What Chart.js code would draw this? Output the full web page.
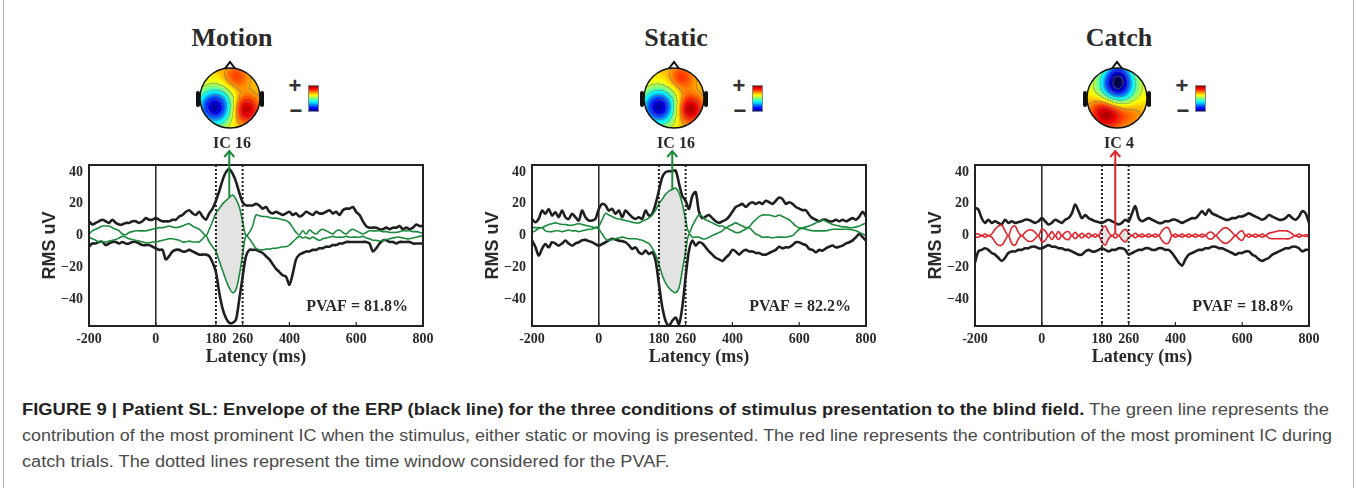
<!DOCTYPE html>
<html>
<head>
<meta charset="utf-8">
<script src="https://cdn.jsdelivr.net/npm/chart.js@4.4.1/dist/chart.umd.min.js"></script>
<style>
body { margin: 0; background: #fff; width: 1357px; height: 488px; overflow: hidden; position: relative; }
.abs { position: absolute; }
.ttl { font: bold 26px "Liberation Serif", serif; color: #2a2a2a; width: 200px; text-align: center; line-height: 30px; }
.ic { font: bold 16px "Liberation Serif", serif; color: #2a2a2a; width: 100px; text-align: center; line-height: 18px; }
.pm { font: bold 22px "Liberation Sans", sans-serif; color: #333; line-height: 22px; width: 20px; text-align: center; }
.cap { left: 22px; white-space: nowrap; font-family: "Liberation Sans Narrow", "Liberation Sans", sans-serif; font-size: 16px; line-height: 20px; color: #4a4a4a; transform-origin: 0 50%; }
.cap b { color: #222; }
.edge { position: absolute; top: 0; bottom: 0; width: 1px; background: #b5b5b5; }
</style>
</head>
<body>
<div class="edge" style="left:3px"></div>
<div class="edge" style="left:1353px"></div>

<div id="figure"></div>

<div class="abs cap" id="cap1" style="top:400px"><b>FIGURE 9 | Patient SL: Envelope of the ERP (black line) for the three conditions of stimulus presentation to the blind field.</b> The green line represents the</div>
<div class="abs cap" id="cap2" style="top:426px">contribution of the most prominent IC when the stimulus, either static or moving is presented. The red line represents the contribution of the most prominent IC during</div>
<div class="abs cap" id="cap3" style="top:452px">catch trials. The dotted lines represent the time window considered for the PVAF.</div>

<script>
// latency axis, 10 ms steps
const latency = [];
for (let t = -200; t <= 800; t += 10) latency.push(t);
const xTicks = [-200, 0, 180, 260, 400, 600, 800];
const yTicks = [40, 20, 0, -20, -40];
const windowMs = [180, 260];

const titles = ['Motion', 'Static', 'Catch'];
const icNames = ['IC 16', 'IC 16', 'IC 4'];
const pvafs = ['PVAF = 81.8%', 'PVAF = 82.2%', 'PVAF = 18.8%'];

// Motion
const motionErpUpper = [9, 7, 8, 9, 10, 9, 8, 10, 8, 7,
  7, 8, 8, 9, 9, 8, 9, 11, 10, 10,
  11, 10, 9, 9, 9, 10, 10, 12, 13, 15,
  16, 14, 13, 15, 12, 10, 14, 17, 22, 28,
  35, 40, 42, 39, 34, 27, 21, 19, 19, 19,
  20, 19, 17, 18, 15, 14, 15, 14, 13, 14,
  15, 13, 14, 12, 13, 15, 14, 13, 15, 14,
  14, 15, 16, 14, 15, 13, 16, 17, 17, 18,
  15, 13, 9, 6, 5, 5, 5, 4, 4, 5,
  4, 5, 5, 6, 4, 5, 4, 5, 7, 6, 6];
const motionErpLower = [-7, -5, -5, -4, -4, -6, -5, -4, -4, -5,
  -4, -5, -5, -4, -4, -5, -6, -6, -6, -7,
  -8, -9, -9, -15, -13, -10, -9, -9, -10, -10,
  -9, -10, -11, -12, -12, -12, -13, -17, -23, -36,
  -46, -52, -55, -55, -53, -40, -26, -13, -9, -9,
  -9, -10, -11, -13, -15, -18, -21, -23, -25, -26,
  -31, -24, -15, -12, -11, -10, -10, -9, -9, -8,
  -8, -7, -7, -6, -6, -5, -5, -4, -4, -4,
  -4, -4, -4, -4, -5, -10, -8, -5, -3, -3,
  -4, -4, -5, -4, -4, -4, -4, -5, -5, -5, -5];
const motionIcUpper = [1, 3, 4, 5, 6, 6, 6, 5, 4, 3,
  1, 0.5, 2, 2.5, 3, 3, 3, 3, 3.5, 4,
  4.5, 5, 5, 5.5, 6, 5.5, 5, 5.5, 6, 7,
  7.5, 6, 5, 4, 2, 0, 4, 9, 14, 17,
  20, 22, 24, 25.5, 23, 18, 9, 0, 2, 6,
  13, 12.5, 12, 12, 11.5, 11, 11, 10.5, 10, 9.5,
  8, 5, 2, 0.5, 3, 1, 3.5, 2, 1, 3,
  4, 3, 2, 1, 3, 3.5, 2, 1, 3, 4,
  3, 2, 1, 2, 3, 3, 3, 3, 2.5, 2.5,
  2, 2, 2, 2.5, 3, 3, 3, 2.5, 2.5, 2, 1.5];
const motionIcLower = [-1, -2, -3, -4, -4, -4, -3.5, -3, -2.5, -1.5,
  -0.5, -1, -2, -2.5, -3, -3.5, -4, -4.5, -4.5, -4,
  -4, -3.5, -3, -2.5, -2, -2, -2.5, -3, -4, -4,
  -3.5, -4, -4, -4, -2, 0, -4, -7, -10, -16,
  -22, -28, -33, -36, -34, -25, -12, 0, -2, -5,
  -8, -9, -9, -8.5, -8.5, -8, -8, -7.5, -7, -7,
  -6, -4, -2, -0.5, -1.5, -1, -2, -1, -2, -3,
  -2, -1.5, -1, -0.5, -1, -1, -1, -0.5, -1, -1,
  -1, -1, -0.5, -1.5, -2, -3, -3, -3.5, -3, -2.5,
  -2, -1.5, -1, -1, -1.5, -2, -2, -1.5, -1, -0.5, 0];

// Static
const staticErpUpper = [10.5, 8.4, 10.5, 15.8, 13.7, 16.8, 12.6, 14.7, 11.6, 15.8,
  11.6, 10.5, 13.7, 11.6, 9.5, 15.8, 11.6, 9.5, 9.5, 10.5,
  16.8, 20, 19, 15.8, 16.8, 13.7, 15.8, 11.6, 15.8, 13.7,
  11.6, 10.5, 11.6, 10.5, 15.8, 12.6, 13.7, 20, 28.4, 36.8,
  40, 40.6, 40.6, 41, 33, 25, 22, 16.8, 25, 27.4,
  15, 11, 12, 13, 11, 9, 8, 9, 10, 12,
  15, 18, 19, 20, 18, 20, 21, 20, 21, 20,
  22, 21, 20, 22, 24, 23, 20, 21, 20, 18,
  17, 16, 16, 13, 11, 10, 9, 10, 10, 9,
  9, 10, 9, 10, 9, 10, 11, 10, 12, 15, 12];
const staticErpLower = [-3, -7, -12.6, -8.4, -5.3, -7.4, -4.2, -5, -6.3, -5,
  -3.2, -5, -6.3, -5, -4.2, -3, -2.7, -3.5, -4.2, -5.3,
  -6.3, -5.3, -4.2, -3, -2, -2.5, -3.2, -3.5, -4.2, -6,
  -8.4, -7.4, -10.5, -11.6, -9.5, -11.6, -10.5, -15.8, -30.5, -45,
  -53.7, -56.8, -53.7, -51.6, -55.8, -45, -26, -9.5, -3.2, -6.3,
  -4.2, -5, -7.4, -10, -12, -14, -15, -16, -14, -12,
  -9, -10, -12, -10, -9, -10, -10, -11, -11, -12,
  -12, -11, -10, -9, -7, -8, -7.4, -7.4, -6, -4.2,
  -4.2, -5.3, -6, -8.4, -9, -10.5, -9, -9.5, -8, -7,
  -6.3, -7.4, -7, -6.3, -5, -4.2, -3, -1, 1, -1, -3.2];
const staticIcUpper = [5, 5, 5, 5, 6, 7, 7.5, 8, 7.5, 7,
  7, 6.5, 6.5, 7, 7.5, 7, 6.5, 6, 5.5, 5,
  6, 10, 14, 13, 12, 11, 10.5, 10, 9.5, 9,
  8.5, 8, 8, 9, 10, 11, 13, 16, 20, 23,
  26, 28, 29, 30, 27, 20, 10, 2, 6, 10,
  13, 12, 10, 9, 8, 7, 6, 6, 5, 6,
  7, 8, 7, 6, 5, 5.5, 8, 10, 12, 13,
  13, 13, 12.5, 12, 13, 12, 11, 10, 8, 6,
  5, 5, 5.5, 6, 7, 8, 9, 10, 9, 8,
  7, 6.5, 6, 5.5, 5.5, 5, 5, 5.5, 6, 7, 8];
const staticIcLower = [2, 3, 4.5, 5, 3, 2.5, 2.5, 3, 3, 2.5,
  3, 3.5, 3, 3, 2.5, 3, 3.5, 4, 4, 5,
  4, 1, -2, -3, -2.5, -2, -1.5, -1, -1.5, -2,
  -2, -2, -2.5, -3, -4, -5, -8, -12, -18, -25,
  -30, -33, -35, -36, -33, -22, -10, 1, -1, -1,
  -1, -2, -2, -1, 0, 1, 2, 3, 5, 4,
  3, 2, 2, 3, 4, 5, 3, 1, 0, -1,
  -1, -1, -1.5, -1, -1, -1, -1, -0.5, 0, 2,
  4, 4.5, 4, 3.5, 3, 3, 3, 3, 3, 3.5,
  4, 4, 4, 4, 4, 4, 3.5, 3, 2, 1, 0];

// Catch
const catchErpUpper = [17.5, 16.4, 11, 8, 10, 8, 9, 8, 7, 10,
  8, 9, 8, 8.5, 9, 10, 10, 9, 8, 9,
  11, 9, 7, 8, 10, 9, 8, 10, 11, 14,
  19.6, 15.4, 11, 13, 11, 10, 9, 8.5, 8, 9,
  10, 9, 8, 7, 8, 10, 9, 14, 18.5, 11,
  9, 10, 11, 10, 9, 8, 8, 9, 9, 10,
  10, 9, 8, 9, 10, 11, 11, 13, 15.4, 13,
  16.4, 14, 13, 12, 11, 10, 10, 11, 11, 12,
  12, 13, 14, 13, 12, 11, 10, 11, 13, 12,
  11, 10, 10, 11, 13, 11, 10, 12, 15.4, 14, 8];
const catchErpLower = [-17, -10, -9, -8, -9, -11, -12, -14, -16, -14,
  -11, -10, -10, -9, -9, -8, -8, -7, -7, -8,
  -8, -7, -6, -7, -7, -8, -8, -9, -9, -10,
  -11, -12, -12, -10, -9, -10, -10, -9, -8, -9,
  -10, -9, -9, -8, -8, -9, -12, -11, -10, -9,
  -9, -8, -8, -9, -9, -8, -8, -9, -9, -11,
  -14, -17, -19, -15, -12, -11, -10, -9, -9, -8,
  -8, -7, -7, -8, -8, -9, -10, -11, -12, -11,
  -11, -10, -10, -12, -13, -15, -16, -15, -14, -12,
  -11, -10, -9, -8, -8, -7, -7, -8, -10, -9, -9];
const catchIcUpper = [1, 1, 0, 1, 0, 1, 4, 6, 6.5, 3,
  0, 5, 6, 2, 0, 2, 3.5, 3.5, 2, 0,
  4, 3, 0, 2.5, 0, 2.5, 0, 2, 2.5, 0,
  2, 0, 1.5, 0, 1.5, 0, 1, 0, 4, 6,
  2, 0, 1.5, 0, 2.5, 4, 1.5, 0, 1.5, 0,
  1, 0, 1, 0, 1, 0, 3, 5, 4.5, 0,
  1, 0, 1, 0, 1, 0, 1, 0, 1, 0,
  2, 2, 0, 2, 4, 5, 4, 2, 0, 2,
  3, 0, 1, 0, 1, 0, 1, 0, 1.5, 2,
  2.5, 3, 3, 3, 2.5, 1, 0, 1, 0, 0.5, 0.5];
const catchIcLower = [-1, -1, 0, -1, 0, -1, -4, -6, -6, -3,
  0, -5, -6, -2, 0, -2, -3.5, -3.5, -2, 0,
  -4, -3, 0, -2.5, 0, -2.5, 0, -2, -2.5, 0,
  -2, 0, -1.5, 0, -1.5, 0, -1, 0, -4, -6,
  -2, 0, -1.5, 0, -2.5, -4, -1.5, 0, -1.5, 0,
  -1, 0, -1, 0, -1, 0, -3, -5, -4.5, 0,
  -1, 0, -1, 0, -1, 0, -1, 0, -1, 0,
  -2, -2, 0, -2, -4, -5, -4, -2, 0, -2,
  -3, 0, -1, 0, -1, 0, -1, 0, -1.5, -2,
  -2, -2, -2, -2, -2, -1, 0, -1, 0, -0.5, -0.5];

const panels = [
  {erpUp: motionErpUpper, erpLo: motionErpLower, icUp: motionIcUpper, icLo: motionIcLower, color: '#1b8a3c', arrowAt: 220},
  {erpUp: staticErpUpper, erpLo: staticErpLower, icUp: staticIcUpper, icLo: staticIcLower, color: '#1b8a3c', arrowAt: 220},
  {erpUp: catchErpUpper, erpLo: catchErpLower, icUp: catchIcUpper, icLo: catchIcLower, color: '#e3232b', arrowAt: 220}
];

// scalp map blobs (head radius = 1, y down): [x, y, sigma, amplitude]
const scalps = [
  {base: 0.67, blobs: [[-0.5, 0.3, 0.42, -0.64], [0.5, 0.38, 0.33, 0.3], [0.2, -0.7, 0.3, 0.15]]},
  {base: 0.67, blobs: [[-0.5, 0.3, 0.41, -0.64], [0.5, 0.36, 0.33, 0.31], [0.25, -0.68, 0.3, 0.16]]},
  {base: 0.64, blobs: [[0.0, -0.38, 0.4, -0.62], [0.05, -0.85, 0.3, -0.25], [-0.35, 0.5, 0.4, 0.34], [0.5, 0.55, 0.35, 0.1]]}
];

const chartDx = [0, 443, 886];
const decoDx = [0, 444, 887];
const fig = document.getElementById('figure');

function jet(v) {
  const c = k => Math.max(0, Math.min(1, 1.5 - Math.abs(4 * v - k)));
  return [c(3) * 255, c(2) * 255, c(1) * 255];
}

function drawHead(cv, s) {
  const ctx = cv.getContext('2d');
  const W = cv.width, H = cv.height, cx = 40, cy = 44, r = 30;
  const img = ctx.createImageData(W, H);
  const f = new Float32Array(W * H);
  for (let j = 0; j < H; j++) for (let i = 0; i < W; i++) {
    const nx = (i + 0.5 - cx) / r, ny = (j + 0.5 - cy) / r;
    let v = s.base;
    s.blobs.forEach(b => { v += b[3] * Math.exp(-((nx - b[0]) ** 2 + (ny - b[1]) ** 2) / (2 * b[2] * b[2])); });
    f[j * W + i] = v;
  }
  for (let j = 1; j < H; j++) for (let i = 1; i < W; i++) {
    const nx = (i + 0.5 - cx) / r, ny = (j + 0.5 - cy) / r;
    if (nx * nx + ny * ny > 1) continue;
    const v = f[j * W + i];
    let col = jet(v);
    const lv = Math.floor(v * 7), ll = Math.floor(f[j * W + i - 1] * 7), lt = Math.floor(f[(j - 1) * W + i] * 7);
    if (lv !== ll || lv !== lt) col = col.map(c => c * 0.55 + 50);
    const k = (j * W + i) * 4;
    img.data[k] = col[0]; img.data[k + 1] = col[1]; img.data[k + 2] = col[2]; img.data[k + 3] = 255;
  }
  ctx.putImageData(img, 0, 0);
  ctx.strokeStyle = '#111';
  ctx.lineWidth = 1.5;
  ctx.beginPath(); ctx.arc(cx, cy, r, 0, Math.PI * 2); ctx.stroke();
  // nose
  ctx.lineWidth = 2;
  ctx.beginPath(); ctx.moveTo(cx - 5, cy - r + 0.5); ctx.lineTo(cx, cy - r - 6); ctx.lineTo(cx + 5, cy - r + 0.5); ctx.stroke();
  // ears
  ctx.fillStyle = '#111';
  [cx - r - 4, cx + r].forEach(ex => {
    ctx.beginPath();
    ctx.roundRect(ex, cy - 7, 4, 16, 2);
    ctx.fill();
  });
}

function drawBar(cv) {
  const ctx = cv.getContext('2d');
  for (let j = 0; j < cv.height; j++) {
    const c = jet(1 - j / (cv.height - 1));
    ctx.fillStyle = `rgb(${c[0] | 0},${c[1] | 0},${c[2] | 0})`;
    ctx.fillRect(0, j, cv.width, 1);
  }
  ctx.strokeStyle = '#888';
  ctx.strokeRect(0.5, 0.5, cv.width - 1, cv.height - 1);
}

const decor = {
  id: 'decor',
  beforeDatasetsDraw(chart) {
    const {ctx, chartArea: a, scales: {x}} = chart;
    ctx.save();
    ctx.strokeStyle = '#222';
    ctx.lineWidth = 1.5;
    const x0 = x.getPixelForValue(0);
    ctx.beginPath(); ctx.moveTo(x0, a.top); ctx.lineTo(x0, a.bottom); ctx.stroke();
    ctx.restore();
  },
  afterDatasetsDraw(chart, args, o) {
    const {ctx, chartArea: a, scales: {x, y}} = chart;
    ctx.save();
    ctx.strokeStyle = '#222';
    ctx.lineWidth = 2;
    ctx.setLineDash([2, 2]);
    windowMs.forEach(t => {
      const px = x.getPixelForValue(t);
      ctx.beginPath(); ctx.moveTo(px, a.top); ctx.lineTo(px, a.bottom); ctx.stroke();
    });
    ctx.setLineDash([]);
    ctx.lineWidth = 1.2;
    xTicks.forEach(t => {
      const px = x.getPixelForValue(t);
      ctx.beginPath(); ctx.moveTo(px, a.bottom); ctx.lineTo(px, a.bottom - 4); ctx.stroke();
    });
    ctx.lineWidth = 2;
    ctx.strokeRect(a.left, a.top, a.right - a.left, a.bottom - a.top);
    // arrow to the IC
    const i = latency.indexOf(o.arrowAt);
    const ax = x.getPixelForValue(o.arrowAt), ay = y.getPixelForValue(o.peak[i]);
    const tip = a.top - 14;
    ctx.strokeStyle = o.color;
    ctx.lineWidth = 2;
    ctx.beginPath();
    ctx.moveTo(ax, ay); ctx.lineTo(ax, tip);
    ctx.moveTo(ax - 5, tip + 6); ctx.lineTo(ax, tip); ctx.lineTo(ax + 5, tip + 6);
    ctx.stroke();
    ctx.fillStyle = '#2a2a2a';
    ctx.font = 'bold 16px "Liberation Serif"';
    ctx.textAlign = 'right';
    ctx.textBaseline = 'middle';
    ctx.fillText(o.pvaf, a.right - 15, a.bottom - 19);
    ctx.restore();
  }
};

const serif = 'Liberation Serif';

panels.forEach((p, k) => {
  const dx = decoDx[k];
  fig.insertAdjacentHTML('beforeend',
    `<div class="abs ttl" style="left:${132 + dx}px;top:23px">${titles[k]}</div>` +
    `<canvas class="abs" id="head${k}" width="80" height="84" style="left:${190 + dx}px;top:54px"></canvas>` +
    `<div class="abs pm" style="left:${285 + dx}px;top:75px">+</div>` +
    `<div class="abs pm" style="left:${286 + dx}px;top:100px">\u2212</div>` +
    `<canvas class="abs" id="bar${k}" width="11" height="27" style="left:${308 + dx}px;top:85px"></canvas>` +
    `<div class="abs ic" style="left:${182 + dx}px;top:134px">${icNames[k]}</div>` +
    `<canvas class="abs" id="chart${k}" width="412" height="245" style="left:${30 + chartDx[k]}px;top:130px"></canvas>`);
  drawHead(document.getElementById('head' + k), scalps[k]);
  drawBar(document.getElementById('bar' + k));

  const pts = arr => latency.map((t, i) => ({x: t, y: arr[i]}));
  const win = arr => pts(arr).filter(q => q.x >= windowMs[0] && q.x <= windowMs[1]);

  new Chart(document.getElementById('chart' + k), {
    type: 'line',
    data: {
      datasets: [
        {data: win(p.icUp), borderWidth: 0, fill: false, order: 9, tension: 0.4},
        {data: win(p.icLo), borderWidth: 0, fill: '-1', backgroundColor: '#e3e3e3', order: 8, tension: 0.4},
        {data: pts(p.erpUp), borderColor: '#1f1f1f', borderWidth: 2.6, fill: false, order: 3, tension: 0.3},
        {data: pts(p.erpLo), borderColor: '#1f1f1f', borderWidth: 2.6, fill: false, order: 3, tension: 0.3},
        {data: pts(p.icUp), borderColor: p.color, borderWidth: 1.6, fill: false, order: 1, tension: 0.4},
        {data: pts(p.icLo), borderColor: p.color, borderWidth: 1.6, fill: false, order: 1, tension: 0.4}
      ]
    },
    options: {
      responsive: false,
      animation: false,
      devicePixelRatio: 1,
      layout: {padding: {top: 35, right: 19, left: 0, bottom: 0}},
      elements: {point: {radius: 0}},
      plugins: {
        legend: {display: false},
        tooltip: {enabled: false},
        decor: {arrowAt: p.arrowAt, peak: p.icUp, color: p.color, pvaf: pvafs[k]}
      },
      scales: {
        x: {
          type: 'linear', min: -200, max: 800,
          afterBuildTicks: s => { s.ticks = xTicks.map(v => ({value: v})); },
          afterFit: s => { s.height = 49; s.paddingLeft = 0; s.paddingRight = 0; },
          grid: {display: false, drawTicks: false},
          border: {display: false},
          ticks: {padding: 5, maxRotation: 0, autoSkip: false, color: '#2a2a2a',
            font: {family: serif, weight: 'bold', size: 14}, callback: v => String(v)},
          title: {display: true, text: 'Latency (ms)', color: '#2a2a2a',
            font: {family: serif, weight: 'bold', size: 18}, padding: {top: 0, bottom: 7}}
        },
        y: {
          min: -57, max: 44.5,
          afterBuildTicks: s => { s.ticks = yTicks.map(v => ({value: v})); },
          afterFit: s => { s.width = 59; },
          grid: {display: false, drawTicks: false},
          border: {display: false},
          ticks: {padding: 6, color: '#2a2a2a', font: {family: serif, weight: 'bold', size: 14},
            callback: v => v < 0 ? '\u2212' + (-v) : String(v)},
          title: {display: true, text: 'RMS uV', color: '#2a2a2a',
            font: {family: 'Liberation Sans', weight: 'bold', size: 18}, padding: {top: 9, bottom: 0}}
        }
      }
    },
    plugins: [decor]
  });
});

// fit caption lines to the figure width
const capTargets = [1307, 1310];
const scales = [];
['cap1', 'cap2'].forEach((id, i) => {
  const el = document.getElementById(id);
  const w = el.getBoundingClientRect().width;
  scales.push(capTargets[i] / w);
  el.style.transform = `scaleX(${capTargets[i] / w})`;
});
document.getElementById('cap3').style.transform = `scaleX(${(scales[0] + scales[1]) / 2})`;
</script>
</body>
</html>
